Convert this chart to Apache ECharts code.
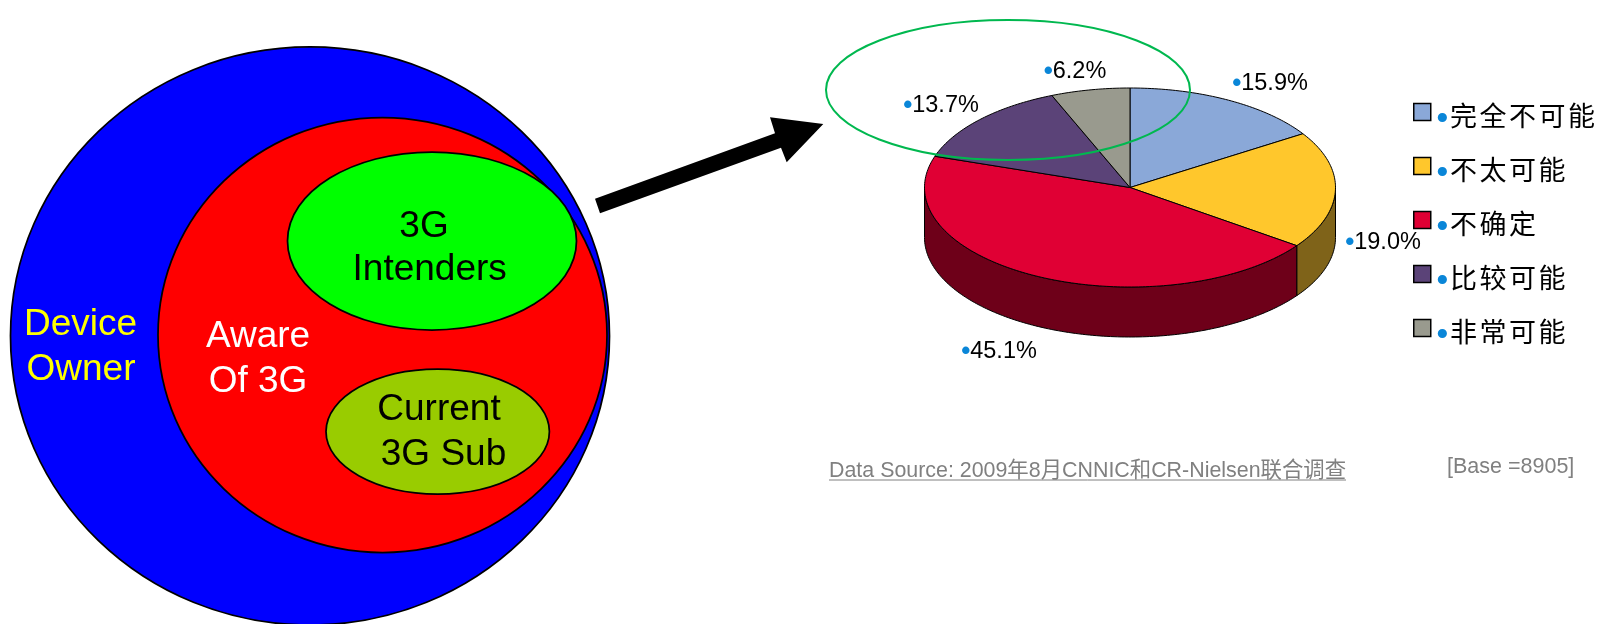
<!DOCTYPE html>
<html>
<head>
<meta charset="utf-8">
<title>3G</title>
<style>
html,body{margin:0;padding:0;background:#fff;}
#main{width:1599px;height:624px;}
</style>
<script src="https://cdn.jsdelivr.net/npm/echarts@6/dist/echarts.min.js"></script>
</head>
<body>
<div id="main"></div>
<script>
// 数据
var categories = ['完全不可能', '不太可能', '不确定', '比较可能', '非常可能'];
var shares = [15.9, 19.0, 45.1, 13.7, 6.2];
var deviceLines = ['Device', 'Owner'];
var awareLines = ['Aware', 'Of 3G'];
var intendLines = ['3G', 'Intenders'];
var subLines = ['Current', '3G Sub'];
var sourceText = 'Data Source: 2009年8月CNNIC和CR-Nielsen联合调查';
var baseText = '[Base =8905]';

// 样式
var topColors = ['#8AA8D8', '#FFC72C', '#E00034', '#5B4378', '#999A8E'];
var sideColors = ['#455470', '#7F6319', '#6E0019', '#2D213C', '#4C4D47'];
var font = '"Liberation Sans","Noto Sans CJK SC",sans-serif';

// 饼图位置
var pie = {cx: 1130, cy: 187.5, rx: 205.5, ry: 99.5, depth: 50};
var labelPos = [[1270, 84], [1383, 243], [999, 352], [941, 106], [1075, 72]];

var total = shares.reduce(function (a, b) { return a + b; }, 0);

function arcPoints(from, to, offset) {
    var pts = [];
    var steps = Math.max(2, Math.ceil((to - from) / (Math.PI / 180)));
    for (var i = 0; i <= steps; i++) {
        var t = from + (to - from) * i / steps;
        pts.push([pie.cx + pie.rx * Math.sin(t), pie.cy - pie.ry * Math.cos(t) + offset]);
    }
    return pts;
}

function renderSlice(params, api) {
    var idx = params.seriesIndex;
    var before = 0;
    for (var i = 0; i < idx; i++) {
        before += shares[i];
    }
    var from = before / total * Math.PI * 2;
    var to = (before + api.value(0)) / total * Math.PI * 2;
    var children = [];

    // 侧面，只画朝前的部分
    var sideFrom = Math.max(from, Math.PI / 2);
    var sideTo = Math.min(to, Math.PI * 1.5);
    if (sideTo > sideFrom) {
        var side = arcPoints(sideFrom, sideTo, 0).concat(arcPoints(sideFrom, sideTo, pie.depth).reverse());
        children.push({
            type: 'polygon',
            shape: {points: side},
            style: {fill: sideColors[idx], stroke: '#000', lineWidth: 1}
        });
    }
    children.push({
        type: 'polygon',
        shape: {points: [[pie.cx, pie.cy]].concat(arcPoints(from, to, 0))},
        style: {fill: topColors[idx], stroke: '#000', lineWidth: 1}
    });
    children.push({
        type: 'text',
        z2: 20,
        style: {
            x: labelPos[idx][0],
            y: labelPos[idx][1],
            text: '{b|•}{t|' + api.value(0).toFixed(1) + '%}',
            align: 'center',
            verticalAlign: 'middle',
            rich: {
                b: {fontSize: 26, fontFamily: font, fill: '#0A86D8', fontWeight: 'bold'},
                t: {fontSize: 23.5, fontFamily: font, fill: '#000'}
            }
        }
    });
    return {type: 'group', children: children};
}

function ellipse(cx, cy, rx, ry, fill, z) {
    return {type: 'ellipse', z: z, shape: {cx: cx, cy: cy, rx: rx, ry: ry},
        style: {fill: fill, stroke: '#000', lineWidth: 1.75}};
}

function vennText(str, x, y, color) {
    return {type: 'text', z: 6, style: {text: str, x: x, y: y, fill: color, align: 'center',
        verticalAlign: 'middle', font: '37px ' + font}};
}

var series = categories.map(function (name, i) {
    return {
        name: name,
        type: 'custom',
        coordinateSystem: 'none',
        silent: true,
        z: 3,
        itemStyle: {color: topColors[i]},
        renderItem: renderSlice,
        data: [[shares[i]]]
    };
});

var option = {
    backgroundColor: '#fff',
    animation: false,
    legend: {
        orient: 'vertical',
        left: 1408,
        top: 84,
        itemWidth: 17,
        itemHeight: 17,
        itemGap: 8,
        selectedMode: false,
        icon: 'rect',
        itemStyle: {borderColor: '#000', borderWidth: 1.5},
        data: categories,
        formatter: function (name) {
            var s = '{b|•}';
            for (var i = 0; i < name.length; i++) {
                s += '{c|' + name.charAt(i) + '}';
            }
            return s;
        },
        textStyle: {
            rich: {
                b: {fontSize: 32, fontFamily: font, color: '#0A86D8', fontWeight: 'bold', padding: [14, 2, 0, 1], lineHeight: 26},
                c: {fontSize: 27, fontFamily: font, color: '#000', padding: [14, 2.5, 0, 0], lineHeight: 26}
            }
        }
    },
    graphic: {
        elements: [
            ellipse(310, 336, 299.5, 289, '#0000FF', 1),
            ellipse(382.5, 335, 224.5, 217.5, '#FF0000', 2),
            ellipse(432, 241, 144.5, 89, '#00FF00', 3),
            ellipse(437.7, 431.5, 111.7, 62.5, '#99CC00', 3),
            vennText(deviceLines[0], 80.5, 324.5, '#FFFF00'),
            vennText(deviceLines[1], 81, 369.5, '#FFFF00'),
            vennText(awareLines[0], 258, 337, '#FFFFFF'),
            vennText(awareLines[1], 258, 382, '#FFFFFF'),
            vennText(intendLines[0], 424, 226.5, '#000'),
            vennText(intendLines[1], 429.7, 270, '#000'),
            vennText(subLines[0], 439, 410, '#000'),
            vennText(subLines[1], 443.5, 454.5, '#000'),
            {
                type: 'polygon', z: 6,
                shape: {points: [[595, 198.7], [775, 133.3], [770, 117.3], [823.3, 124], [786.7, 162.3], [781, 147.7], [600, 213.3]]},
                style: {fill: '#000'}
            },
            {
                type: 'ellipse', z: 10,
                shape: {cx: 1008, cy: 90, rx: 182, ry: 70},
                style: {fill: 'none', stroke: '#00B84F', lineWidth: 2}
            },
            {
                type: 'text', z: 6,
                style: {text: sourceText, x: 829, y: 471, fill: '#808080', align: 'left', verticalAlign: 'middle', font: '21.4px ' + font}
            },
            {
                type: 'line', z: 6,
                shape: {x1: 829, y1: 480, x2: 1346, y2: 480},
                style: {stroke: '#808080', lineWidth: 1}
            },
            {
                type: 'text', z: 6,
                style: {text: baseText, x: 1447, y: 467, fill: '#808080', align: 'left', verticalAlign: 'middle', font: '21.5px ' + font}
            }
        ]
    },
    series: series
};

var chart = echarts.init(document.getElementById('main'));
chart.setOption(option);
</script>
</body>
</html>
